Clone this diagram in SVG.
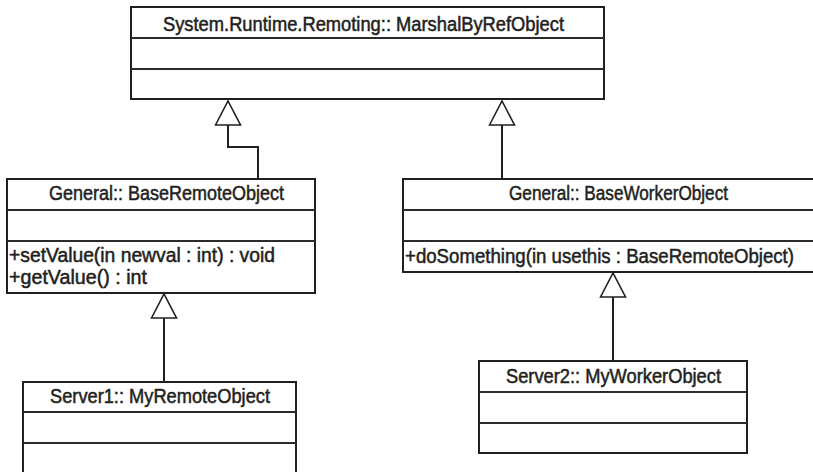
<svg xmlns="http://www.w3.org/2000/svg" width="813" height="472" viewBox="0 0 813 472">
<style>
.box{fill:#fff;stroke:#231f20;stroke-width:2}
.div{stroke:#2d2a2b;stroke-width:2}
.t{font-family:"Liberation Sans",Arial,sans-serif;font-size:19.5px;fill:#231f20;stroke:#231f20;stroke-width:0.5}
.c{stroke:#231f20;stroke-width:2;fill:none}
</style>
<defs>
<marker id="gen" markerUnits="userSpaceOnUse" markerWidth="26" markerHeight="28" viewBox="0 0 26 28" refX="24" refY="13" orient="auto" overflow="visible">
<path d="M0,0.5 L24,13 L0,25.5 Z" fill="#fff" stroke="#231f20" stroke-width="1.6"/>
</marker>
</defs>
<rect width="813" height="472" fill="#fff"/>
<g id="connectors">
<path class="c" d="M258,179 V147 H228 V101" marker-end="url(#gen)"/>
<path class="c" d="M502,179 V101" marker-end="url(#gen)"/>
<path class="c" d="M164,382 V294" marker-end="url(#gen)"/>
<path class="c" d="M613,361 V273" marker-end="url(#gen)"/>
</g>
<g id="MarshalByRefObject">
<rect class="box" x="131" y="7" width="473" height="92"/>
<line class="div" x1="131" y1="38" x2="604" y2="38"/>
<line class="div" x1="131" y1="69" x2="604" y2="69"/>
<text class="t" x="163" y="31" textLength="401" lengthAdjust="spacingAndGlyphs">System.Runtime.Remoting:: MarshalByRefObject</text>
</g>
<g id="BaseRemoteObject">
<rect class="box" x="7" y="179" width="308" height="114"/>
<line class="div" x1="7" y1="210" x2="315" y2="210"/>
<line class="div" x1="7" y1="241" x2="315" y2="241"/>
<text class="t" x="49" y="200" textLength="235" lengthAdjust="spacingAndGlyphs">General:: BaseRemoteObject</text>
<text class="t" x="9" y="262" textLength="266" lengthAdjust="spacingAndGlyphs">+setValue(in newval : int) : void</text>
<text class="t" x="9" y="284" textLength="138" lengthAdjust="spacingAndGlyphs">+getValue() : int</text>
</g>
<g id="BaseWorkerObject">
<rect class="box" x="403" y="179" width="420" height="93"/>
<line class="div" x1="403" y1="210" x2="823" y2="210"/>
<line class="div" x1="403" y1="241" x2="823" y2="241"/>
<text class="t" x="509" y="200" textLength="219" lengthAdjust="spacingAndGlyphs">General:: BaseWorkerObject</text>
<text class="t" x="405" y="263" textLength="389" lengthAdjust="spacingAndGlyphs">+doSomething(in usethis : BaseRemoteObject)</text>
</g>
<g id="MyRemoteObject">
<rect class="box" x="23" y="382" width="273" height="100"/>
<line class="div" x1="23" y1="412" x2="296" y2="412"/>
<line class="div" x1="23" y1="443" x2="296" y2="443"/>
<text class="t" x="50" y="403" textLength="220" lengthAdjust="spacingAndGlyphs">Server1:: MyRemoteObject</text>
</g>
<g id="MyWorkerObject">
<rect class="box" x="479" y="361" width="268" height="92"/>
<line class="div" x1="479" y1="392" x2="747" y2="392"/>
<line class="div" x1="479" y1="423" x2="747" y2="423"/>
<text class="t" x="506" y="383" textLength="215" lengthAdjust="spacingAndGlyphs">Server2:: MyWorkerObject</text>
</g>
</svg>
